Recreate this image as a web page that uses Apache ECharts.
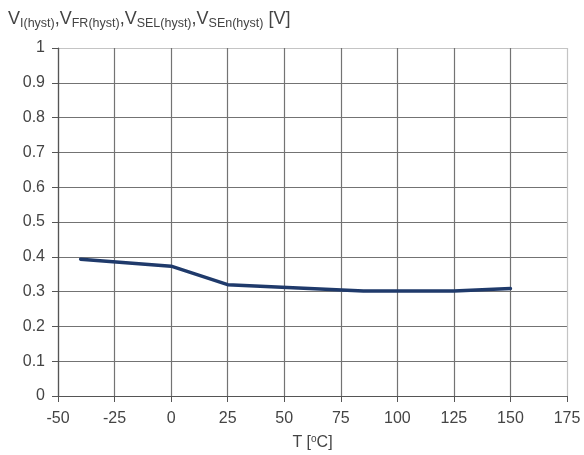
<!DOCTYPE html>
<html>
<head>
<meta charset="utf-8">
<script src="https://cdn.jsdelivr.net/npm/echarts@6/dist/echarts.min.js"></script>
<style>
  html, body { margin: 0; padding: 0; background: #fff; }
  #chart { width: 584px; height: 455px; }
</style>
</head>
<body>
<div id="chart"></div>
<script>
// Hysteresis voltage versus junction temperature
const temperatures = [-40, 0, 25, 85, 125, 150];
const hystVoltage = [0.393, 0.373, 0.320, 0.302, 0.302, 0.309];
const xTicks = [-50, -25, 0, 25, 50, 75, 100, 125, 150, 175];
const yTicks = [0, 0.1, 0.2, 0.3, 0.4, 0.5, 0.6, 0.7, 0.8, 0.9, 1];

const textColor = '#444';
const font = 'Liberation Sans, Arial, sans-serif';
const gridDark = '#737373';
const gridLight = '#c4c4c4';

const points = temperatures.map((t, i) => [t, hystVoltage[i]]);

// darker lines everywhere except the outer top/right border
const xSplitColors = xTicks.map((v, i) => (i === xTicks.length - 1 ? gridLight : gridDark));
const ySplitColors = yTicks.map((v, i) => (i === yTicks.length - 1 ? gridLight : gridDark));

const chart = echarts.init(document.getElementById('chart'), null, { renderer: 'canvas' });
chart.setOption({
  animation: false,
  backgroundColor: '#fff',
  title: {
    text: '{v|V}{s|I(hyst)}{v|,V}{s|FR(hyst)}{v|,V}{s|SEL(hyst)}{v|,V}{s|SEn(hyst)}{v| [V]}',
    left: 3,
    top: 2,
    textStyle: {
      fontFamily: font,
      fontWeight: 'normal',
      color: textColor,
      rich: {
        v: { fontSize: 18, fontFamily: font, fontWeight: 'normal', color: textColor, lineHeight: 21, verticalAlign: 'bottom' },
        s: { fontSize: 12.5, fontFamily: font, fontWeight: 'normal', color: textColor, lineHeight: 21, verticalAlign: 'bottom', padding: [0, 0, -2, 0] }
      }
    }
  },
  grid: { left: 58, right: 17, top: 48, bottom: 59, containLabel: false, outerBoundsMode: 'none' },
  xAxis: {
    type: 'value',
    min: -50,
    max: 175,
    interval: 25,
    name: '{t|T [}{o|o}{t|C]}',
    nameLocation: 'middle',
    nameGap: 38,
    nameTextStyle: {
      rich: {
        t: { fontSize: 16, fontFamily: font, color: textColor },
        o: { fontSize: 10, fontFamily: font, color: textColor, verticalAlign: 'top', padding: [0, 0, 8, 0] }
      }
    },
    axisLine: { show: true, onZero: false, lineStyle: { color: '#555', width: 1.2 } },
    axisTick: { show: true, length: 6, lineStyle: { color: '#555' } },
    axisLabel: { color: textColor, fontSize: 16, fontFamily: font, margin: 15 },
    splitLine: { show: true, lineStyle: { color: xSplitColors, width: 1.2 } }
  },
  yAxis: {
    type: 'value',
    min: 0,
    max: 1,
    interval: 0.1,
    axisLine: { show: true, onZero: false, lineStyle: { color: '#555', width: 1.2 } },
    axisTick: { show: true, length: 6, lineStyle: { color: '#555' } },
    axisLabel: { color: textColor, fontSize: 16, fontFamily: font, margin: 13 },
    splitLine: { show: true, lineStyle: { color: ySplitColors, width: 1.2 } }
  },
  series: [{
    type: 'line',
    data: points,
    showSymbol: false,
    lineStyle: { color: '#1f3a6b', width: 3.5, join: 'round', cap: 'round' }
  }]
});
</script>
</body>
</html>
